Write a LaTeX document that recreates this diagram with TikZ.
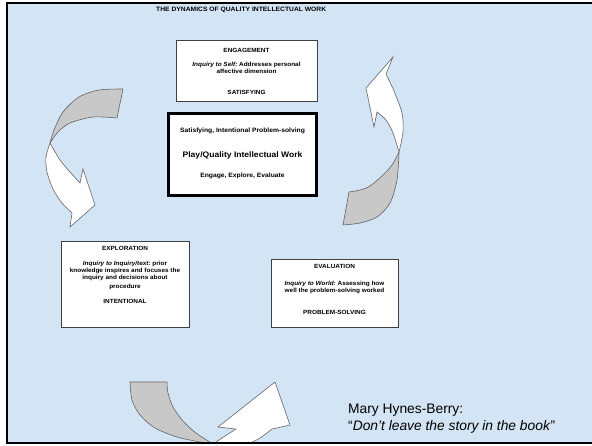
\documentclass[tikz,border=0pt]{standalone}
\usepackage{fontspec}
\setmainfont{Liberation Sans}
\newfontfamily\slidefont[FakeStretch=1.07]{Liberation Sans}
\definecolor{slidebg}{RGB}{211,228,245}
\definecolor{ribbon}{RGB}{200,200,200}
\definecolor{ribbonedge}{RGB}{100,100,100}
\begin{document}
\begin{tikzpicture}[x=1pt,y=-1pt,
  boxtext/.style={font=\slidefont\fontsize{6}{7}\selectfont\bfseries, inner sep=0pt},
  centertext/.style={font=\slidefont\fontsize{6.3}{7}\selectfont\bfseries, inner sep=0pt},
  stagebox/.style={draw=black!75, line width=0.7pt, fill=white, inner sep=0pt},
  corebox/.style={draw=black, line width=3.5pt, fill=white, inner sep=0pt},
  backside/.style={fill=ribbon, draw=ribbonedge, line width=0.6pt, line join=round},
  frontside/.style={fill=white, draw=ribbonedge, line width=0.6pt, line join=miter},
  quote/.style={font=\fontsize{13.8}{16}\selectfont, inner sep=0pt, anchor=west}]

\useasboundingbox (0,0) rectangle (592,445);
\fill[white] (0,0) rectangle (592,445);
\fill[slidebg] (7,3) rectangle (592,443);

% title
\node[font=\slidefont\fontsize{6.3}{7}\selectfont\bfseries, inner sep=0pt, anchor=west] (title) at (156,9.5)
  {THE DYNAMICS OF QUALITY INTELLECTUAL WORK};

% ---- curved arrows ----
% left: from engagement down to exploration
\draw[backside] (123,89) -- plot[smooth] coordinates {(123,89) (99,90) (79,97) (63,112) (54,130) (50,143)}
  -- plot[smooth] coordinates {(50,143) (58,132) (70,123) (93,117) (117,118)} -- cycle;
\draw[frontside] (50,143) -- plot[smooth] coordinates {(50,143) (46,157) (47,172) (53,189) (62,203) (72,213)}
  -- (70,227) -- (95,205) -- (83,169) -- (80,183)
  -- plot[smooth] coordinates {(80,183) (70,172) (60,160) (50,143)} -- cycle;

% right: from evaluation up to engagement
\draw[backside] (343,225) -- plot[smooth] coordinates {(343,225) (360,223) (377,217) (390,203) (397,180) (399,152)}
  -- plot[smooth] coordinates {(399,152) (392,165) (383,175) (370,186) (360,190) (349,192)} -- cycle;
\draw[frontside] (399,152) -- plot[smooth] coordinates {(399,152) (403,132) (402,113) (394,91) (386,74)}
  -- (393,57) -- (366,88) -- (374,127) -- (377,112)
  -- plot[smooth] coordinates {(377,112) (386,120) (393,133) (399,152)} -- cycle;

% bottom: from exploration over to evaluation
\begin{scope}
  \clip (7,3) rectangle (592,443);
  \draw[backside] (130,382) -- plot[smooth] coordinates {(130,382) (132,400) (140,415) (155,428) (177,437) (200,442) (213,444)}
    -- plot[smooth] coordinates {(213,444) (196,433) (183,421) (173,407) (168,393) (167,382)} -- cycle;
  \draw[frontside] (213,444) -- (225,436) -- (236,429) -- (218,427) -- (275,382) -- (290,425) -- (272,429)
    -- plot[smooth] coordinates {(272,429) (260,438) (246,445) (232,450)} -- (213,444);
\end{scope}

% ---- stage boxes ----
\node[stagebox, minimum width=141pt, minimum height=61pt] (engage) at (246.5,70.5) {};
\node[boxtext] (engageA) at (engage.center |- 0,50) {ENGAGEMENT};
\node[boxtext] (engageB) at (engage.center |- 0,65) {\itshape Inquiry to Self:\upshape\ Addresses personal};
\node[boxtext] (engageC) at (engage.center |- 0,71.5) {affective dimension};
\node[boxtext] (engageD) at (engage.center |- 0,92) {SATISFYING};

\node[corebox, minimum width=148pt, minimum height=82pt] (core) at (242.5,154.5) {};
\node[centertext] (coreA) at (core.center |- 0,131) {Satisfying, Intentional Problem-solving};
\node[centertext, font=\slidefont\fontsize{8}{9}\selectfont\bfseries] (coreB) at (core.center |- 0,155) {Play/Quality Intellectual Work};
\node[centertext] (coreC) at (core.center |- 0,176) {Engage, Explore, Evaluate};

\node[stagebox, minimum width=128pt, minimum height=86pt] (explore) at (125,284) {};
\node[boxtext] (exploreA) at (explore.center |- 0,248) {EXPLORATION};
\node[boxtext] (exploreB) at (explore.center |- 0,264) {\itshape Inquiry to Inquiry/text:\upshape\ prior};
\node[boxtext] (exploreC) at (explore.center |- 0,271) {knowledge inspires and focuses the};
\node[boxtext] (exploreD) at (explore.center |- 0,278) {inquiry and decisions about};
\node[boxtext] (exploreE) at (explore.center |- 0,287) {procedure};
\node[boxtext] (exploreF) at (explore.center |- 0,301) {INTENTIONAL};

\node[stagebox, minimum width=127pt, minimum height=68pt] (evaluate) at (334.5,293) {};
\node[boxtext] (evaluateA) at (evaluate.center |- 0,266) {EVALUATION};
\node[boxtext] (evaluateB) at (evaluate.center |- 0,284) {\itshape Inquiry to World:\upshape\ Assessing how};
\node[boxtext] (evaluateC) at (evaluate.center |- 0,290.5) {well the problem-solving worked};
\node[boxtext] (evaluateD) at (evaluate.center |- 0,312) {PROBLEM-SOLVING};

% quotation
\node[quote] (author) at (348,410) {Mary Hynes-Berry:};
\node[quote] (saying) at (348,427) {“\textit{Don’t leave the story in the book}”};

% slide frame
\draw[line width=1.5pt] (592,3) -- (7,3) -- (7,443) -- (592,443);
\end{tikzpicture}
\end{document}
